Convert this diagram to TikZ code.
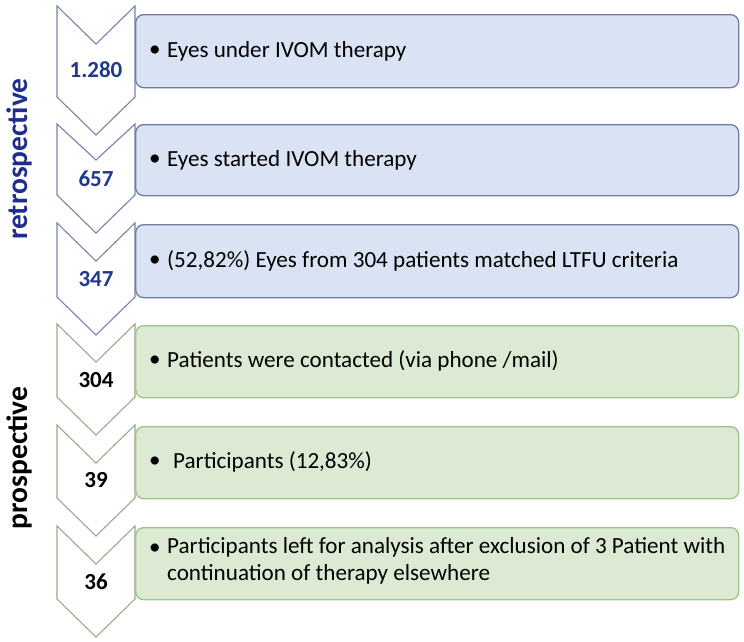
\documentclass[tikz,border=0pt]{standalone}
\usepackage{fontspec}
\setmainfont{Carlito}
\definecolor{bluefill}{HTML}{DAE3F3}
\definecolor{bluebd}{HTML}{6F7E9E}
\definecolor{bluechev}{HTML}{7484B0}
\definecolor{greenfill}{HTML}{DCEAD3}
\definecolor{greenbd}{HTML}{9CC488}
\definecolor{greenchev}{HTML}{A0A88C}
\definecolor{numblue}{HTML}{1F3A8A}
\definecolor{retroblue}{HTML}{1F2E8E}
\begin{document}
\begin{tikzpicture}[x=1pt,y=-1pt,
  chevblue/.style={draw=bluechev,fill=white,line width=1.1pt,line join=miter},
  chevgreen/.style={draw=greenchev,fill=white,line width=1.1pt,line join=miter},
  boxblue/.style={draw=bluebd,fill=bluefill,line width=1.3pt,rounded corners=8pt,
    minimum width=603pt,anchor=north west,inner sep=0pt},
  boxgreen/.style={draw=greenbd,fill=greenfill,line width=1.3pt,rounded corners=8pt,
    minimum width=603pt,anchor=north west,inner sep=0pt},
  txt/.style={anchor=west,inner sep=0pt,align=left,font=\fontsize{23.1}{27}\selectfont},
  bul/.style={inner sep=0pt,font=\fontsize{23.1}{27}\selectfont},
  numb/.style={inner sep=0pt,font=\fontsize{23}{27}\selectfont\bfseries,text=numblue},
  numk/.style={inner sep=0pt,font=\fontsize{23}{27}\selectfont\bfseries,text=black},
  side/.style={rotate=90,inner sep=0pt,font=\fontsize{29.5}{34}\selectfont\bfseries}]
\useasboundingbox (0,0) rectangle (744,641);
% chevrons
\draw[chevblue] (57,6) -- (96,44) -- (135,6) -- (135,97) -- (96,135) -- (57,97) -- cycle;
\draw[chevblue] (57,124) -- (96,160) -- (135,124) -- (135,195) -- (96,233) -- (57,195) -- cycle;
\draw[chevblue] (57,223) -- (96,261) -- (135,223) -- (135,297) -- (96,335) -- (57,297) -- cycle;
\draw[chevgreen] (57,324) -- (96,362) -- (135,324) -- (135,397) -- (96,435) -- (57,397) -- cycle;
\draw[chevgreen] (57,425) -- (96,463) -- (135,425) -- (135,498) -- (96,536) -- (57,498) -- cycle;
\draw[chevgreen] (57,526) -- (96,564) -- (135,526) -- (135,599) -- (96,637) -- (57,599) -- cycle;
% boxes
\node[boxblue,minimum height=73pt] (b1) at (135,14) {};
\node[boxblue,minimum height=71pt] (b2) at (135,124) {};
\node[boxblue,minimum height=73pt] (b3) at (135,224) {};
\node[boxgreen,minimum height=72pt] (b4) at (135,325) {};
\node[boxgreen,minimum height=72pt] (b5) at (135,426) {};
\node[boxgreen,minimum height=72pt] (b6) at (135,527) {};
% bullets and texts
\node[bul] (u1) at (155,51) {•};
\node[txt] (t1) at (167,51) {Eyes under IVOM therapy};
\node[bul] (u2) at (155,160) {•};
\node[txt] (t2) at (167,160) {Eyes started IVOM therapy};
\node[bul] (u3) at (155,261) {•};
\node[txt] (t3) at (167,261) {(52,82\%) Eyes from 304 patients matched LTFU criteria};
\node[bul] (u4) at (155,361) {•};
\node[txt] (t4) at (167,361) {Patients were contacted (via phone /mail)};
\node[bul] (u5) at (155,462) {•};
\node[txt] (t5) at (173,462) {Participants (12,83\%)};
\node[bul] (u6) at (155,549) {•};
\node[txt,anchor=north west] (t6) at (167,537) {Participants left for analysis after exclusion of 3 Patient with\\continuation of therapy elsewhere};
% numbers
\node[numb] (n1) at (96,70) {1.280};
\node[numb] (n2) at (96,179) {657};
\node[numb] (n3) at (96,279) {347};
\node[numk] (n4) at (96,380) {304};
\node[numk] (n5) at (96,480) {39};
\node[numk] (n6) at (96,582) {36};
% side labels
\node[side,text=retroblue] (lr) at (19,159) {retrospective};
\node[side,text=black] (lp) at (19,458) {prospective};
\end{tikzpicture}
\end{document}
